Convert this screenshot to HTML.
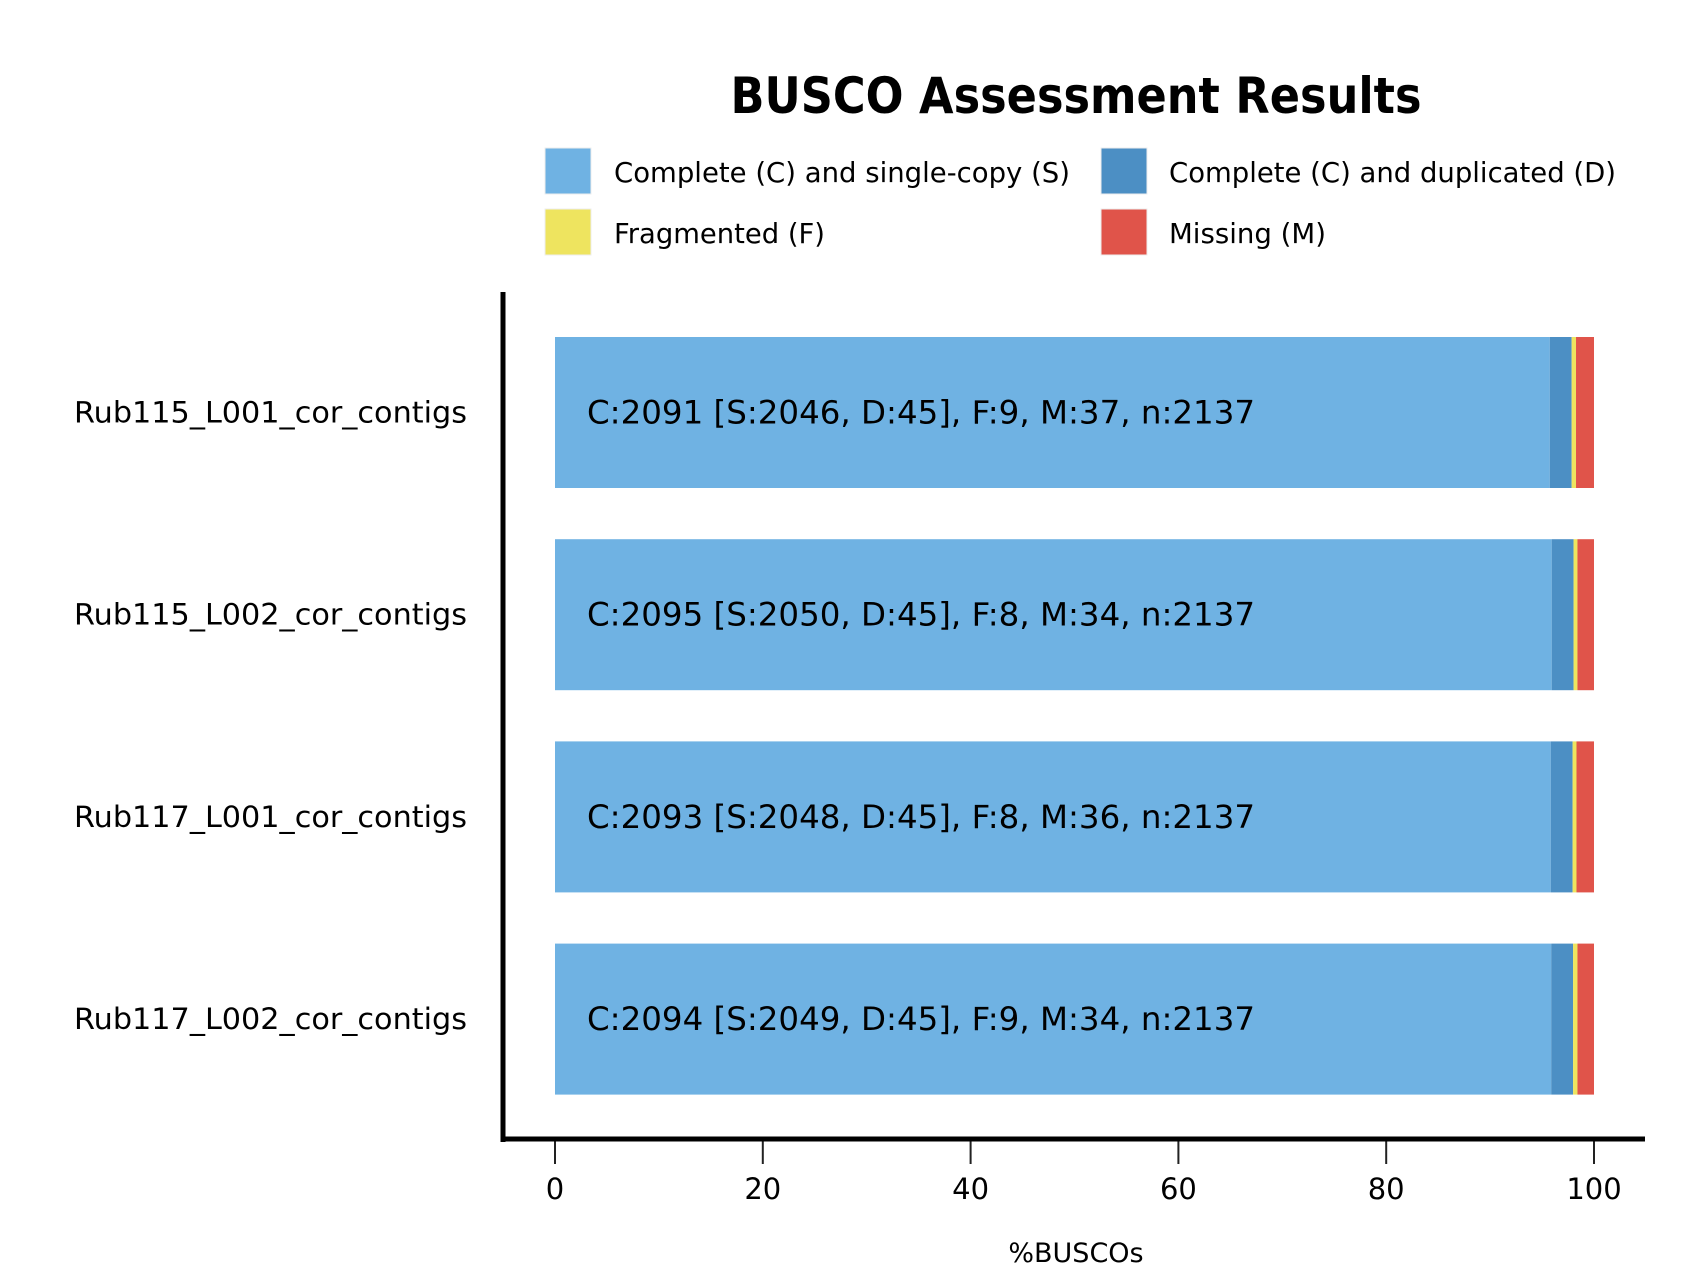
<!DOCTYPE html>
<html><head><meta charset="utf-8"><style>
html,body{margin:0;padding:0;background:#fff;}
svg{display:block;font-family:"DejaVu Sans","Liberation Sans",sans-serif;}
</style></head><body>
<svg id="chart" width="1682" height="1287" viewBox="0 0 1682 1287">
<text x="1076" y="113" text-anchor="middle" font-size="50" font-weight="bold" textLength="691" lengthAdjust="spacingAndGlyphs">BUSCO Assessment Results</text>
<g>
 <rect x="545" y="148" width="46" height="46" fill="#6fb2e3" stroke="#eee"/>
 <text x="614" y="182" font-size="28" textLength="456" lengthAdjust="spacingAndGlyphs">Complete (C) and single-copy (S)</text>
 <rect x="1101" y="148" width="46" height="46" fill="#4c8fc4" stroke="#eee"/>
 <text x="1169" y="182" font-size="28" textLength="447" lengthAdjust="spacingAndGlyphs">Complete (C) and duplicated (D)</text>
 <rect x="545" y="209" width="46" height="46" fill="#eee45f" stroke="#eee"/>
 <text x="614" y="243" font-size="28" textLength="211" lengthAdjust="spacingAndGlyphs">Fragmented (F)</text>
 <rect x="1101" y="209" width="46" height="46" fill="#e0544a" stroke="#eee"/>
 <text x="1169" y="243" font-size="28" textLength="157" lengthAdjust="spacingAndGlyphs">Missing (M)</text>
</g>
<g id="plot"></g>
<line x1="503" y1="292" x2="503" y2="1142" stroke="#000" stroke-width="5"/>
<line x1="501" y1="1139" x2="1645" y2="1139" stroke="#000" stroke-width="5"/>
<text x="1076" y="1262" text-anchor="middle" font-size="27">%BUSCOs</text>
</svg>
<script>
const categories = ["Rub115_L001_cor_contigs","Rub115_L002_cor_contigs","Rub117_L001_cor_contigs","Rub117_L002_cor_contigs"];
const singleCopy = [2046, 2050, 2048, 2049];
const duplicated = [45, 45, 45, 45];
const fragmented = [9, 8, 8, 9];
const missing = [37, 34, 36, 34];
const totals = [2137, 2137, 2137, 2137];
const xTicks = [0, 20, 40, 60, 80, 100];
const colors = ["#6fb2e3", "#4c8fc4", "#eee45f", "#e0544a"];
const NS = "http://www.w3.org/2000/svg";
const g = document.getElementById("plot");
const x = v => 555 + v * 10.39;
const yTop = i => 337 + i * 202.2;
const barH = 151;
function mk(tag, attrs){const e=document.createElementNS(NS,tag);for(const k in attrs)e.setAttribute(k,attrs[k]);g.appendChild(e);return e;}
categories.forEach((c,i)=>{
  const n = totals[i];
  const parts = [singleCopy[i], duplicated[i], fragmented[i], missing[i]];
  const names = ["single","duplicated","fragmented","missing"];
  let acc = 0;
  parts.forEach((p,j)=>{
    const pct = p / n * 100;
    const r = mk("rect",{x:x(acc), y:yTop(i), width:Math.max(0, x(acc+pct)-x(acc)), height:barH, fill:colors[j]});
    
    
    acc += pct;
  });
  const t = mk("text",{x:587, y:yTop(i)+barH/2+11, "font-size":32, textLength:668, lengthAdjust:"spacingAndGlyphs"});
  t.textContent = "C:" + (singleCopy[i]+duplicated[i]) + " [S:" + singleCopy[i] + ", D:" + duplicated[i] + "], F:" + fragmented[i] + ", M:" + missing[i] + ", n:" + n;
  
  
  const l = mk("text",{x:467, y:yTop(i)+barH/2+10, "font-size":29, "text-anchor":"end", textLength:393, lengthAdjust:"spacingAndGlyphs"});
  l.textContent = c;
  
  
});
xTicks.forEach(v=>{
  const tk = mk("line",{x1:x(v), x2:x(v), y1:1139, y2:1164, stroke:"#222", "stroke-width":2});
  
  
  const tl = mk("text",{x:x(v), y:1199, "font-size":29, "text-anchor":"middle"});
  tl.textContent = v;
  
  
});
</script>
</body></html>
